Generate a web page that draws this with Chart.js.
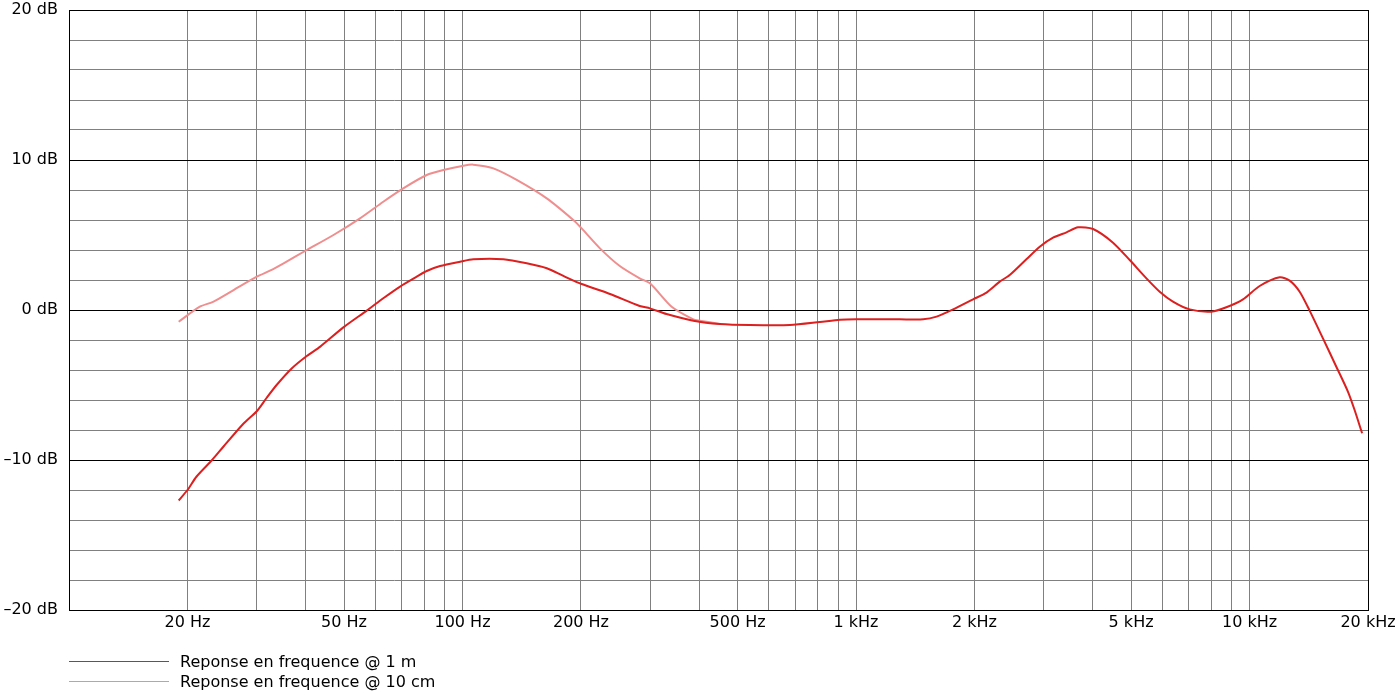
<!DOCTYPE html>
<html>
<head>
<meta charset="utf-8">
<script src="https://cdn.jsdelivr.net/npm/chart.js@4.4.1/dist/chart.umd.min.js"></script>
<style>
  html, body { margin: 0; padding: 0; background: #fff; }
  #wrap { position: relative; width: 1398px; height: 695px; }
  #legend { position: absolute; left: 69px; top: 651px; font: 16px "DejaVu Sans", sans-serif; color: #000; }
  .item { display: flex; align-items: center; height: 20px; }
  .swatch { width: 100px; height: 1px; margin-right: 11px; }
</style>
</head>
<body>
<div id="wrap">
  <canvas id="chart" width="1398" height="695"></canvas>
  <div id="legend"></div>
</div>
<script>
// frequency response
const seriesNames = ['Reponse en frequence @ 1 m', 'Reponse en frequence @ 10 cm'];

const freq1m = [19, 20, 21.1, 23.1, 24.7, 27.7, 30, 31.8, 33.7, 36.8, 40.2, 43.5, 49.8, 57.1, 62.9, 69.4,
  76.5, 81.1, 87.7, 98.6, 106.5, 127, 145.6, 163.7, 180.4, 200.8, 237, 282, 299.5, 330, 386, 451, 537,
  679, 809, 910, 1000, 1291, 1481, 1602, 1765, 1984, 2146, 2318, 2458, 2710, 2930, 3167, 3426, 3666,
  4003, 4499, 4960, 5470, 5912, 6388, 7046, 7998, 8730, 9624, 10610, 11928, 12646, 13408, 14214,
  15366, 16616, 17782, 18492, 19322];
const db1m = [-12.7, -12.0, -11.1, -10.0, -9.1, -7.6, -6.75, -5.85, -5.0, -3.9, -3.07, -2.44, -1.16, -0.04,
  0.78, 1.56, 2.22, 2.6, 2.93, 3.22, 3.38, 3.38, 3.11, 2.78, 2.27, 1.73, 1.07, 0.27, 0.11, -0.27, -0.71,
  -0.93, -1.0, -1.0, -0.8, -0.65, -0.62, -0.62, -0.62, -0.44, 0.04, 0.71, 1.16, 1.89, 2.33, 3.38, 4.22,
  4.82, 5.18, 5.51, 5.4, 4.49, 3.33, 2.11, 1.22, 0.56, 0.04, -0.11, 0.18, 0.71, 1.6, 2.18, 1.96, 1.22,
  -0.04, -1.89, -3.78, -5.44, -6.67, -8.22];

const freq10cm = [19, 21.5, 23.3, 26.2, 30, 32.4, 35.1, 40.2, 47, 54.9, 62.9, 70.7, 81.1, 89.4, 100.5,
  106.5, 119.8, 137.3, 163.7, 191.2, 200.8, 223.5, 251, 282, 299.5, 340, 386, 401, 451];
const db10cm = [-0.78, 0.22, 0.56, 1.33, 2.22, 2.62, 3.11, 4.0, 5.0, 6.11, 7.22, 8.11, 9.0, 9.33, 9.62,
  9.69, 9.44, 8.67, 7.44, 6.0, 5.44, 4.11, 2.93, 2.11, 1.78, 0.22, -0.62, -0.71, -0.93];

const xTickValues = [10, 20, 30, 40, 50, 60, 70, 80, 90, 100, 200, 300, 400, 500, 600, 700, 800, 900,
  1000, 2000, 3000, 4000, 5000, 6000, 7000, 8000, 9000, 10000, 20000];
const xLabelValues = [20, 50, 100, 200, 500, 1000, 2000, 5000, 10000, 20000];
const xLabels = ['20 Hz', '50 Hz', '100 Hz', '200 Hz', '500 Hz', '1 kHz', '2 kHz', '5 kHz', '10 kHz', '20 kHz'];
const yLabelValues = [-20, -10, 0, 10, 20];
const yLabels = ['\u201320 dB', '\u201310 dB', '0 dB', '10 dB', '20 dB'];

const colors = ['#dc2020', '#ef8e8e'];
const font = { family: '"DejaVu Sans", sans-serif', size: 16 };

const ctx = document.getElementById('chart');
const chart = new Chart(ctx, {
  type: 'line',
  data: {
    datasets: [
      {
        label: seriesNames[0],
        data: freq1m.map((f, i) => ({ x: f, y: db1m[i] })),
        borderColor: colors[0],
        borderWidth: 2,
        pointRadius: 0,
        tension: 0.25
      },
      {
        label: seriesNames[1],
        data: freq10cm.map((f, i) => ({ x: f, y: db10cm[i] })),
        borderColor: colors[1],
        borderWidth: 2,
        pointRadius: 0,
        tension: 0.25
      }
    ]
  },
  options: {
    responsive: false,
    animation: false,
    layout: { padding: { top: 10, right: 30, bottom: 55, left: 0 } },
    plugins: { legend: { display: false }, tooltip: { enabled: false } },
    scales: {
      x: {
        type: 'logarithmic',
        min: 10,
        max: 20000,
        afterBuildTicks: function(scale) {
          scale.ticks = xTickValues.map(v => ({ value: v }));
        },
        afterFit: function(scale) {
          scale.height = 30;
          scale.paddingLeft = 0;
          scale.paddingRight = 0;
        },
        ticks: {
          autoSkip: false,
          maxRotation: 0,
          padding: 3,
          color: '#000',
          font: font,
          callback: function(value) {
            const i = xLabelValues.indexOf(value);
            return i >= 0 ? xLabels[i] : '';
          }
        },
        grid: {
          drawTicks: false,
          color: c => (c.tick && (c.tick.value === 10 || c.tick.value === 20000)) ? '#000' : '#808080'
        },
        border: { color: '#000' }
      },
      y: {
        min: -20,
        max: 20,
        afterFit: function(scale) {
          scale.width = 69;
          // labels may stick out of the plot, keep the plot where the reference has it
          scale.paddingTop = 0;
          scale.paddingBottom = 0;
        },
        ticks: {
          stepSize: 2,
          autoSkip: false,
          padding: 11,
          color: '#000',
          font: font,
          callback: function(value) {
            const i = yLabelValues.indexOf(value);
            return i >= 0 ? yLabels[i] : '';
          }
        },
        grid: {
          drawTicks: false,
          color: c => (c.tick && c.tick.value % 10 === 0) ? '#000' : '#808080'
        },
        border: { color: '#000' }
      }
    }
  }
});

// legend below the plot, one line per series
const legend = document.getElementById('legend');
chart.data.datasets.forEach(ds => {
  const item = document.createElement('div');
  item.className = 'item';
  const sw = document.createElement('span');
  sw.className = 'swatch';
  sw.style.background = ds.borderColor;
  const txt = document.createElement('span');
  txt.textContent = ds.label;
  item.appendChild(sw);
  item.appendChild(txt);
  legend.appendChild(item);
});
</script>
</body>
</html>
